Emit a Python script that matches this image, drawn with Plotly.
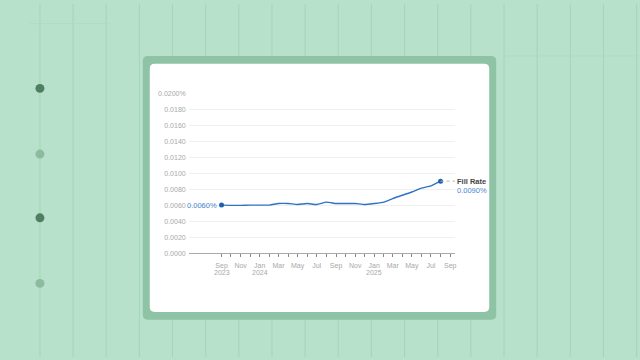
import plotly.graph_objects as go
import pandas as pd

months = pd.date_range("2023-09-01", "2025-08-01", freq="MS")
fill_rate = [0.0060, 0.00597, 0.00597, 0.0060, 0.0060, 0.0060, 0.0062, 0.0062,
             0.00608, 0.0062, 0.00608, 0.00637, 0.0062, 0.0062, 0.0062, 0.00608,
             0.0062, 0.00637, 0.00682, 0.00723, 0.00764, 0.00813, 0.00841, 0.0090]
series_name = "Fill Rate"
start_label = "0.0060%"
end_label = "0.0090%"

ytick_vals = [i * 0.002 for i in range(11)]
ytick_text = ["0.0000", "0.0020", "0.0040", "0.0060", "0.0080", "0.0100",
              "0.0120", "0.0140", "0.0160", "0.0180", "0.0200%"]
xtick_dates = pd.date_range("2023-09-01", "2025-09-01", freq="MS")
xtick_labels = ["Sep", "", "Nov", "", "Jan", "", "Mar", "", "May", "",
                "Jul", "", "Sep", "", "Nov", "", "Jan", "", "Mar", "", "May", "",
                "Jul", "", "Sep"]
year_dates = ["2023-09-01", "2024-01-01", "2025-01-01"]
year_labels = ["2023", "2024", "2025"]

W, H = 640, 360
def px(x):
    return x / W
def py(y):
    return 1 - y / H

BG = "#b7e1ca"
LINE_BLUE = "#2f72c4"
LABEL_BLUE = "#4a86cf"
TICK_GRAY = "#a8a8a8"

def rounded_rect(x0, y0, x1, y1, r):
    rx, ry = r / W, r / H
    X0, X1 = px(x0), px(x1)
    Y0, Y1 = py(y0), py(y1)
    return (f"M{X0+rx},{Y0} L{X1-rx},{Y0} Q{X1},{Y0} {X1},{Y0-ry} "
            f"L{X1},{Y1+ry} Q{X1},{Y1} {X1-rx},{Y1} L{X0+rx},{Y1} "
            f"Q{X0},{Y1} {X0},{Y1+ry} L{X0},{Y0-ry} Q{X0},{Y0} {X0+rx},{Y0} Z")

shapes = []
for i in range(19):
    x = 40 + i * 33.2
    shapes.append(dict(type="line", xref="paper", yref="paper", x0=px(x), x1=px(x),
                       y0=0, y1=1, line=dict(color="#a7d4ba", width=1), layer="below"))
shapes.append(dict(type="line", xref="paper", yref="paper", x0=px(30), x1=px(110),
                   y0=py(20), y1=py(20), line=dict(color="#b0dbc3", width=1), layer="below"))
shapes.append(dict(type="line", xref="paper", yref="paper", x0=px(505), x1=px(640),
                   y0=py(53), y1=py(53), line=dict(color="#b0dbc3", width=1), layer="below"))
for y, c in [(86, "#4f7f63"), (153, "#8dbb9f"), (218, "#4f7f63"), (285, "#8dbb9f")]:
    shapes.append(dict(type="circle", xref="paper", yref="paper",
                       x0=px(35.5), x1=px(44.5), y0=py(y + 4.5), y1=py(y - 4.5),
                       line=dict(width=0), fillcolor=c, layer="below"))
shapes.append(dict(type="path", xref="paper", yref="paper",
                   path=rounded_rect(143, 53, 497, 322, 5),
                   fillcolor="#8fc3a5", line=dict(width=0), layer="below"))
shapes.append(dict(type="path", xref="paper", yref="paper",
                   path=rounded_rect(150, 61, 490, 314, 5),
                   fillcolor="#ffffff", line=dict(width=0), layer="below"))

fig = go.Figure()
fig.add_trace(go.Scatter(
    x=months, y=fill_rate, mode="lines", name=series_name,
    line=dict(color=LINE_BLUE, width=1.4, shape="spline", smoothing=0.5),
    hoverinfo="skip", showlegend=False))
fig.add_trace(go.Scatter(
    x=[months[0], months[-1]], y=[fill_rate[0], fill_rate[-1]], mode="markers",
    marker=dict(color="#1f5fb3", size=5), hoverinfo="skip", showlegend=False))

label_x = pd.Timestamp("2025-09-17")
fig.add_annotation(x=months[0], y=fill_rate[0], text=start_label,
                   showarrow=False, xanchor="right", xshift=-3,
                   font=dict(size=7.5, color=LABEL_BLUE))
fig.add_shape(type="line", x0=months[-1], x1=label_x, y0=fill_rate[-1], y1=fill_rate[-1],
              xref="x", yref="y", line=dict(color="#b5b5b5", width=1, dash="dot"))
fig.add_annotation(x=label_x, y=fill_rate[-1], text=f"<b>{series_name}</b>",
                   showarrow=False, xanchor="left", yanchor="middle",
                   font=dict(size=7.5, color="#444444"))
fig.add_annotation(x=label_x, y=fill_rate[-1], text=end_label,
                   showarrow=False, xanchor="left", yanchor="middle", yshift=-9,
                   font=dict(size=7.5, color=LABEL_BLUE))
for d, t in zip(year_dates, year_labels):
    fig.add_annotation(x=pd.Timestamp(d), y=py(274), xref="x", yref="paper", text=t,
                       showarrow=False, xanchor="center", yanchor="middle",
                       font=dict(size=7, color=TICK_GRAY))

for s in shapes:
    fig.add_shape(**s)

fig.update_layout(
    width=W, height=H, margin=dict(l=0, r=0, t=0, b=0),
    paper_bgcolor=BG, plot_bgcolor="rgba(0,0,0,0)",
    font=dict(family="Liberation Sans, Arial, sans-serif"),
    xaxis=dict(domain=[px(189), px(456)], type="date",
               range=[pd.Timestamp("2023-05-19"), label_x],
               tickvals=xtick_dates, ticktext=xtick_labels,
               ticks="outside", ticklen=3, tickcolor="#888888", tickwidth=1,
               ticklabelstandoff=3,
               showgrid=False, showline=True, linecolor="#aaaaaa", linewidth=1,
               tickfont=dict(size=7, color=TICK_GRAY), zeroline=False, anchor="y"),
    yaxis=dict(domain=[py(254), py(91)], range=[0, 0.02],
               tickvals=ytick_vals, ticktext=ytick_text,
               showgrid=True, gridcolor="#f0f0f0", gridwidth=1,
               zeroline=False, showline=False, ticks="", ticklabelstandoff=2,
               tickfont=dict(size=7, color=TICK_GRAY), anchor="x"),
)

fig.write_html("out.html")
